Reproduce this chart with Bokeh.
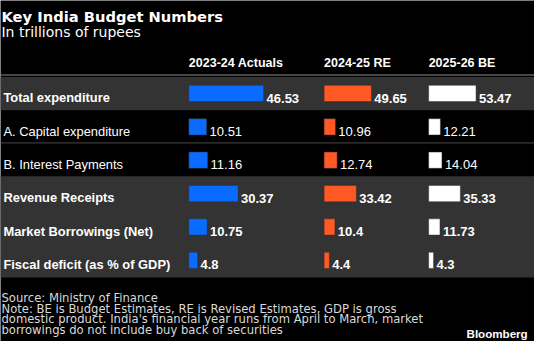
from bokeh.plotting import figure
from bokeh.models import Range1d, ColumnDataSource
from bokeh.core.properties import value
from bokeh.embed import file_html
from bokeh.resources import INLINE

# ---- data ----
categories = ["Total expenditure", "A. Capital expenditure", "B. Interest Payments",
              "Revenue Receipts", "Market Borrowings (Net)", "Fiscal deficit (as % of GDP)"]
columns = ["2023-24 Actuals", "2024-25 RE", "2025-26 BE"]
actuals_2324 = [46.53, 10.51, 11.16, 30.37, 10.75, 4.8]
re_2425 = [49.65, 10.96, 12.74, 33.42, 10.4, 4.4]
be_2526 = [53.47, 12.21, 14.04, 35.33, 11.73, 4.3]
highlight_rows = [True, False, False, True, True, True]

title = "Key India Budget Numbers"
subtitle = "In trillions of rupees"
footer_lines = [
    "Source: Ministry of Finance",
    "Note: BE is Budget Estimates, RE is Revised Estimates, GDP is gross",
    "domestic product. India's financial year runs from April to March, market",
    "borrowings do not include buy back of securities",
]

# ---- layout (reference pixel space 550 x 357) ----
W, H = 534, 341
S = 0.965
FONT = "Liberation Sans"
DJ = "DejaVu Sans"
series = [actuals_2324, re_2425, be_2526]
col_x = [194, 333.3, 441]
col_scale = [1.63, 0.957, 0.89]
bar_base = 1.2
col_colors = ["#0a6cff", "#ff5a26", "#ffffff"]
row_y0, row_step = 97.3, 34.95
row_y = [row_y0 + row_step * i for i in range(len(categories))]

def fs(px):
    return f"{px * S:.1f}px"

p = figure(width=W, height=H, output_backend="svg", toolbar_location=None,
           x_range=Range1d(0, 550), y_range=Range1d(357, 0),
           min_border=0, background_fill_color="black", border_fill_color="black")
p.axis.visible = False
p.grid.visible = False
p.outline_line_color = None

# gray bands
band_tops = [80, 184]
band_bottoms = [115, 290]
p.quad(left=[0, 0], right=[550, 550], top=band_tops, bottom=band_bottoms,
       fill_color="#333333", line_color=None)
# header rule and separator
p.segment(x0=[0], x1=[550], y0=[78], y1=[78], line_color="#8c8c8c", line_width=1.2)
p.segment(x0=[0], x1=[550], y0=[149], y1=[149], line_color="#3a3a3a", line_width=1.2)

# title & subtitle
p.text(x=[1], y=[16.5], text=[title], text_font=value(DJ), text_font_style="bold",
       text_font_size=fs(15.2), text_color="white", text_baseline="alphabetic")
p.text(x=[1], y=[32.7], text=[subtitle], text_font=value(DJ),
       text_font_size=fs(14.5), text_color="white", text_baseline="alphabetic")

# column headers
p.text(x=col_x, y=[65] * 3, text=columns, text_font=value(FONT), text_font_style="bold",
       text_font_size=fs(13), text_color="white", text_baseline="alphabetic")

# row labels
for i, cat in enumerate(categories):
    p.text(x=[3], y=[row_y[i] + 4.6], text=[cat], text_font=value(FONT),
           text_font_style="bold" if highlight_rows[i] else "normal",
           text_font_size=fs(13.4), text_color="white", text_baseline="alphabetic")

# bars and value labels
for c, vals in enumerate(series):
    rights = [col_x[c] + bar_base + v * col_scale[c] for v in vals]
    src = ColumnDataSource(dict(y=row_y, left=[col_x[c]] * len(vals), right=rights))
    p.hbar(y="y", left="left", right="right", height=17, source=src,
           fill_color=col_colors[c], line_color="#303030", line_width=0.8, line_alpha=0.6)
    for i, v in enumerate(vals):
        p.text(x=[rights[i] + 3], y=[row_y[i] + 4.8], text=[f"{v}"], text_font=value(FONT),
               text_font_style="bold" if highlight_rows[i] else "normal",
               text_font_size=fs(13.5), text_color="white", text_baseline="alphabetic")

# footer
for k, line in enumerate(footer_lines):
    p.text(x=[1], y=[311.5 + 11.0 * k], text=[line], text_font=value(DJ),
           text_font_size=fs(12.0), text_color="#d9d9d9", text_baseline="alphabetic")
p.text(x=[543], y=[349], text=["Bloomberg"], text_font=value(FONT), text_font_style="bold",
       text_font_size=fs(12), text_color="white", text_align="right", text_baseline="alphabetic")

open("out.html", "w").write(file_html(p, INLINE))
